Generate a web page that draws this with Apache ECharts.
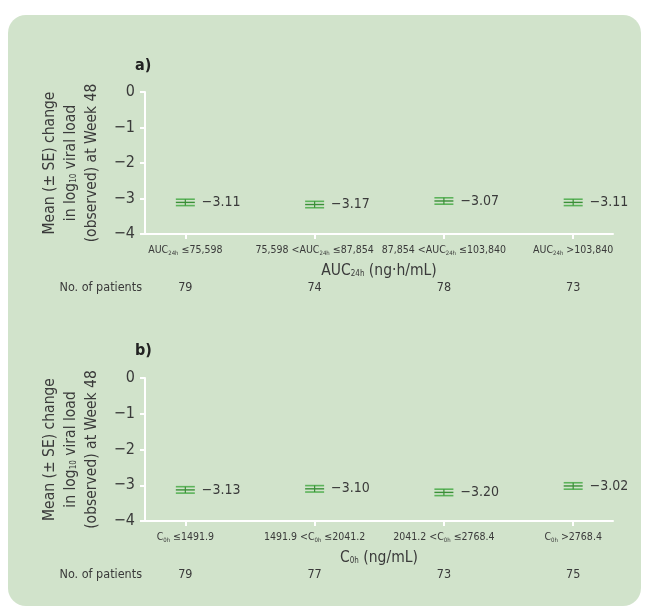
<!DOCTYPE html>
<html>
<head>
<meta charset="utf-8">
<style>
  html, body { margin: 0; padding: 0; background: #ffffff; }
  #chart { width: 645px; height: 614px; }
</style>
<script src="https://cdn.jsdelivr.net/npm/echarts@6/dist/echarts.min.js"></script>
</head>
<body>
<div id="chart"></div>
<script>
// Exposure groups (panel a: AUC24h quartiles, panel b: C0h quartiles)
const aucGroups = ['AUC{s|24h} ≤75,598', '75,598 <AUC{s|24h} ≤87,854', '87,854 <AUC{s|24h} ≤103,840', 'AUC{s|24h} >103,840'];
const c0Groups = ['C{s|0h} ≤1491.9', '1491.9 <C{s|0h} ≤2041.2', '2041.2 <C{s|0h} ≤2768.4', 'C{s|0h} >2768.4'];

// Mean change in log10 viral load at Week 48 and its standard error
const aucMean = [-3.11, -3.17, -3.07, -3.11];
const aucSE = [0.09, 0.09, 0.09, 0.09];
const c0Mean = [-3.13, -3.10, -3.20, -3.02];
const c0SE = [0.09, 0.09, 0.09, 0.09];

// Number of patients per group
const aucPatients = [79, 74, 78, 73];
const c0Patients = [79, 77, 73, 75];

// Y-axis ticks
const yTicks = [0, -1, -2, -3, -4];

const FONT = "'Liberation Sans Narrow', 'DejaVu Sans Condensed', 'Roboto Condensed', sans-serif";
const TEXT = '#3a3a3a';
const AXIS = '#ffffff';
const CAP = '#5cb35a';
const MID = '#3a8f37';

const minus = v => String(v).replace('-', '\u2212');
const fmt2 = v => minus(v.toFixed(2));

function groupData(means, ses) {
  return means.map((m, i) => [i, m, ses[i]]);
}

function renderMarker(params, api) {
  const x = api.value(0), m = api.value(1), se = api.value(2);
  const c = api.coord([x, m]);
  const hi = api.coord([x, m + se]);
  const lo = api.coord([x, m - se]);
  const hw = 9.5;
  return {
    type: 'group',
    children: [
      { type: 'line', shape: { x1: c[0] - hw, y1: hi[1], x2: c[0] + hw, y2: hi[1] }, style: { stroke: CAP, lineWidth: 1.6 } },
      { type: 'line', shape: { x1: c[0] - hw, y1: lo[1], x2: c[0] + hw, y2: lo[1] }, style: { stroke: CAP, lineWidth: 1.6 } },
      { type: 'line', shape: { x1: c[0] - hw, y1: c[1], x2: c[0] + hw, y2: c[1] }, style: { stroke: MID, lineWidth: 1.4 } },
      { type: 'line', shape: { x1: c[0], y1: hi[1], x2: c[0], y2: lo[1] }, style: { stroke: MID, lineWidth: 1.2 } },
      { type: 'text', style: { text: fmt2(m), x: c[0] + hw + 7, y: c[1], verticalAlign: 'middle', align: 'left', fill: TEXT, font: '14px ' + FONT } }
    ]
  };
}

const subRich = {
  s: { fontSize: 6, fontFamily: FONT, color: TEXT, verticalAlign: 'bottom', padding: [4, 0, 0, 0] }
};

function yAxisFor(gridIndex) {
  return {
    type: 'value', gridIndex, min: -4, max: 0, interval: 1,
    name: 'Mean (± SE) change\nin log{s|10} viral load\n(observed) at Week 48',
    nameLocation: 'middle', nameGap: 42,
    nameTextStyle: {
      fontSize: 15.5, fontFamily: FONT, color: TEXT, lineHeight: 21, align: 'center',
      rich: { s: { fontSize: 8, fontFamily: FONT, color: TEXT, lineHeight: 21, padding: [5, 0, 0, 0] } }
    },
    axisLine: { show: true, onZero: false, lineStyle: { color: AXIS, width: 2 } },
    axisTick: { show: true, length: 5, lineStyle: { color: AXIS, width: 2 } },
    splitLine: { show: false },
    axisLabel: { margin: 10, fontSize: 16, fontFamily: FONT, color: TEXT, formatter: v => minus(v) }
  };
}

function catAxisFor(gridIndex, labels, title, titleRich) {
  return {
    type: 'value', gridIndex, min: -0.312, max: 3.308, position: 'bottom',
    name: title, nameLocation: 'middle', nameGap: 29,
    nameTextStyle: { fontSize: 15.5, fontFamily: FONT, color: TEXT, rich: titleRich },
    axisLine: { show: true, onZero: false, lineStyle: { color: AXIS, width: 2 } },
    axisTick: { show: true, length: 5, lineStyle: { color: AXIS, width: 2 }, customValues: [0, 1, 2, 3] },
    splitLine: { show: false },
    axisLabel: {
      margin: 11, fontSize: 10.5, fontFamily: FONT, color: TEXT, rich: subRich,
      customValues: [0, 1, 2, 3], formatter: v => labels[Math.round(v)]
    }
  };
}

function countAxisFor(gridIndex, counts) {
  return {
    type: 'value', gridIndex, min: -0.312, max: 3.308, position: 'bottom', offset: 54,
    name: 'No. of patients', nameLocation: 'start', nameGap: 3,
    nameTextStyle: { fontSize: 12.5, fontFamily: FONT, color: TEXT, verticalAlign: 'middle' },
    axisLine: { show: false, onZero: false },
    axisTick: { show: false },
    splitLine: { show: false },
    axisLabel: {
      margin: 0, verticalAlign: 'middle', fontSize: 12.5, fontFamily: FONT, color: TEXT,
      customValues: [0, 1, 2, 3], formatter: v => String(counts[Math.round(v)])
    }
  };
}

const titleRichA = { s: { fontSize: 8, fontFamily: FONT, color: TEXT, padding: [6, 0, 0, 0] } };

const option = {
  animation: false,
  backgroundColor: '#ffffff',
  graphic: [
    { type: 'rect', z: -10, shape: { x: 8, y: 15, width: 633, height: 591, r: [18, 18, 18, 18] }, style: { fill: '#d1e3cb' } },
    { type: 'text', left: 135, top: 58, style: { text: 'a)', font: 'bold 16px ' + FONT, fill: '#222' } },
    { type: 'text', left: 135, top: 343, style: { text: 'b)', font: 'bold 16px ' + FONT, fill: '#222' } }
  ],
  grid: [
    { left: 145, top: 92, width: 468, height: 142 },
    { left: 145, top: 378, width: 468, height: 143 }
  ],
  xAxis: [
    catAxisFor(0, aucGroups, 'AUC{s|24h} (ng·h/mL)', titleRichA),
    countAxisFor(0, aucPatients),
    catAxisFor(1, c0Groups, 'C{s|0h} (ng/mL)', titleRichA),
    countAxisFor(1, c0Patients)
  ],
  yAxis: [yAxisFor(0), yAxisFor(1)],
  series: [
    { type: 'custom', xAxisIndex: 0, yAxisIndex: 0, renderItem: renderMarker, data: groupData(aucMean, aucSE) },
    { type: 'custom', xAxisIndex: 2, yAxisIndex: 1, renderItem: renderMarker, data: groupData(c0Mean, c0SE) }
  ]
};

const chart = echarts.init(document.getElementById('chart'), null, { renderer: 'canvas' });
chart.setOption(option);
</script>
</body>
</html>
